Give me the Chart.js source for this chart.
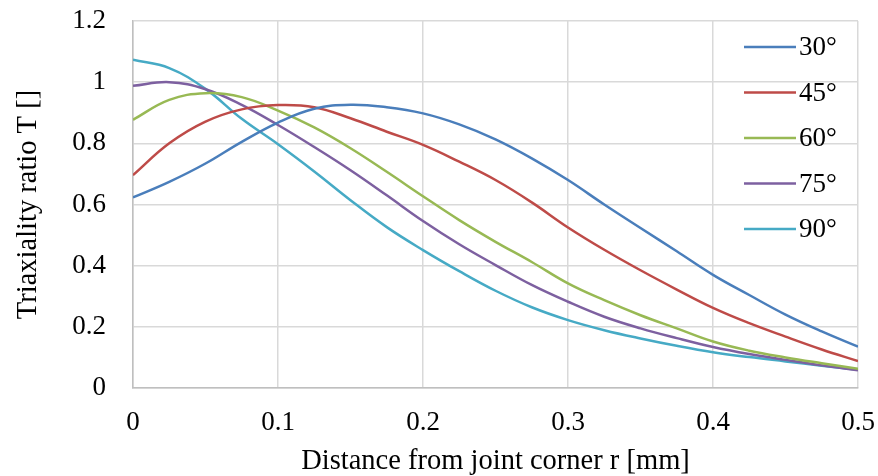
<!DOCTYPE html>
<html>
<head>
<meta charset="utf-8">
<script src="https://cdn.jsdelivr.net/npm/chart.js@4/dist/chart.umd.min.js"></script>
<style>
    body { margin: 0; background: #fff; }
    #wrap { width: 878px; height: 476px; }
</style>
</head>
<body>
<div id="wrap"><canvas id="myChart" width="878" height="476"></canvas></div>
<script>
// Distance from joint corner r [mm]
const distances = [0, 0.025, 0.05, 0.075, 0.1, 0.125, 0.15, 0.175, 0.2, 0.225, 0.25,
    0.275, 0.3, 0.325, 0.35, 0.375, 0.4, 0.425, 0.45, 0.475, 0.5];

const angleLabels = ['30°', '45°', '60°', '75°', '90°'];

// Triaxiality ratio T
const t30 = [0.623, 0.674, 0.734, 0.805, 0.868, 0.913, 0.926, 0.918, 0.898, 0.862, 0.813,
    0.751, 0.680, 0.600, 0.523, 0.447, 0.370, 0.304, 0.240, 0.185, 0.135];
const t45 = [0.696, 0.800, 0.871, 0.911, 0.925, 0.918, 0.882, 0.838, 0.795, 0.740, 0.680,
    0.607, 0.525, 0.452, 0.385, 0.322, 0.262, 0.212, 0.168, 0.126, 0.088];
const t60 = [0.877, 0.942, 0.964, 0.951, 0.907, 0.852, 0.784, 0.707, 0.627, 0.549, 0.478,
    0.412, 0.342, 0.287, 0.238, 0.195, 0.152, 0.122, 0.100, 0.081, 0.063];
const t75 = [0.988, 1.000, 0.977, 0.926, 0.860, 0.788, 0.712, 0.630, 0.546, 0.470, 0.402,
    0.337, 0.282, 0.233, 0.195, 0.163, 0.134, 0.111, 0.092, 0.074, 0.058];
const t90 = [1.073, 1.046, 0.978, 0.880, 0.797, 0.708, 0.614, 0.526, 0.451, 0.382, 0.318,
    0.264, 0.222, 0.189, 0.162, 0.138, 0.117, 0.101, 0.087, 0.073, 0.060];

const seriesValues = [t30, t45, t60, t75, t90];
const seriesColors = ['#4A7EBB', '#BE4B48', '#98B954', '#7D60A0', '#46AAC5'];

const xTicks = [0, 0.1, 0.2, 0.3, 0.4, 0.5];
const xTickLabels = ['0', '0.1', '0.2', '0.3', '0.4', '0.5'];
const yTicks = [0, 0.2, 0.4, 0.6, 0.8, 1, 1.2];
const yTickLabels = ['0', '0.2', '0.4', '0.6', '0.8', '1', '1.2'];

const fontFamily = "'Liberation Serif', 'DejaVu Serif', serif";

// legend drawn inside the plot, top right, like the Excel original
const innerLegend = {
    id: 'innerLegend',
    afterDraw(chart) {
        const ctx = chart.ctx;
        const area = chart.chartArea;
        ctx.save();
        ctx.font = '27px ' + fontFamily;
        ctx.textBaseline = 'middle';
        ctx.textAlign = 'left';
        chart.data.datasets.forEach((ds, i) => {
            const y = area.top + 26 + i * 45.5;
            const x0 = area.right - 114;
            ctx.strokeStyle = ds.borderColor;
            ctx.lineWidth = 2.5;
            ctx.beginPath();
            ctx.moveTo(x0, y);
            ctx.lineTo(x0 + 52, y);
            ctx.stroke();
            ctx.fillStyle = '#000';
            ctx.fillText(ds.label, x0 + 55, y + 1);
        });
        ctx.restore();
    }
};

const datasets = seriesValues.map((vals, i) => ({
    label: angleLabels[i],
    data: distances.map((x, j) => ({ x: x, y: vals[j] })),
    borderColor: seriesColors[i],
    backgroundColor: seriesColors[i],
    borderWidth: 2.5,
    pointRadius: 0,
    tension: 0.4,
    fill: false,
}));

const ctx = document.getElementById('myChart').getContext('2d');
new Chart(ctx, {
    type: 'line',
    data: { datasets: datasets },
    options: {
        responsive: false,
        animation: false,
        layout: { padding: { left: 11, right: 20, top: 21, bottom: 0 } },
        plugins: {
            legend: { display: false },
            tooltip: { enabled: false },
        },
        scales: {
            x: {
                type: 'linear',
                min: 0,
                max: 0.5,
                afterBuildTicks: axis => { axis.ticks = xTicks.map(v => ({ value: v })); },
                afterFit: axis => {
                    axis.height = 88;
                    axis.paddingLeft = 0;
                    axis.paddingRight = 0;
                },
                ticks: {
                    callback: (v) => xTickLabels[xTicks.indexOf(+v.toFixed(1))],
                    color: '#000',
                    font: { family: fontFamily, size: 27 },
                    padding: 19,
                    maxRotation: 0,
                },
                grid: { color: '#d9d9d9', lineWidth: 1.5, drawTicks: false },
                border: { color: '#bfbfbf', width: 1.5 },
                title: {
                    display: true,
                    text: 'Distance from joint corner r [mm]',
                    color: '#000',
                    font: { family: fontFamily, size: 28.5 },
                    padding: { top: 6, bottom: -3 },
                },
            },
            y: {
                min: 0,
                max: 1.2,
                afterBuildTicks: axis => { axis.ticks = yTicks.map(v => ({ value: v })); },
                afterFit: axis => {
                    axis.width = 122;
                    axis.paddingTop = 0;
                    axis.paddingBottom = 0;
                },
                ticks: {
                    callback: (v) => yTickLabels[yTicks.indexOf(+v.toFixed(1))],
                    color: '#000',
                    font: { family: fontFamily, size: 27 },
                    padding: 27,
                },
                grid: { color: '#d9d9d9', lineWidth: 1.5, drawTicks: false },
                border: { color: '#bfbfbf', width: 1.5 },
                title: {
                    display: true,
                    text: 'Triaxiality ratio T []',
                    color: '#000',
                    font: { family: fontFamily, size: 28.5 },
                    padding: { top: 0, bottom: 5 },
                },
            },
        },
    },
    plugins: [innerLegend],
});
</script>
</body>
</html>
